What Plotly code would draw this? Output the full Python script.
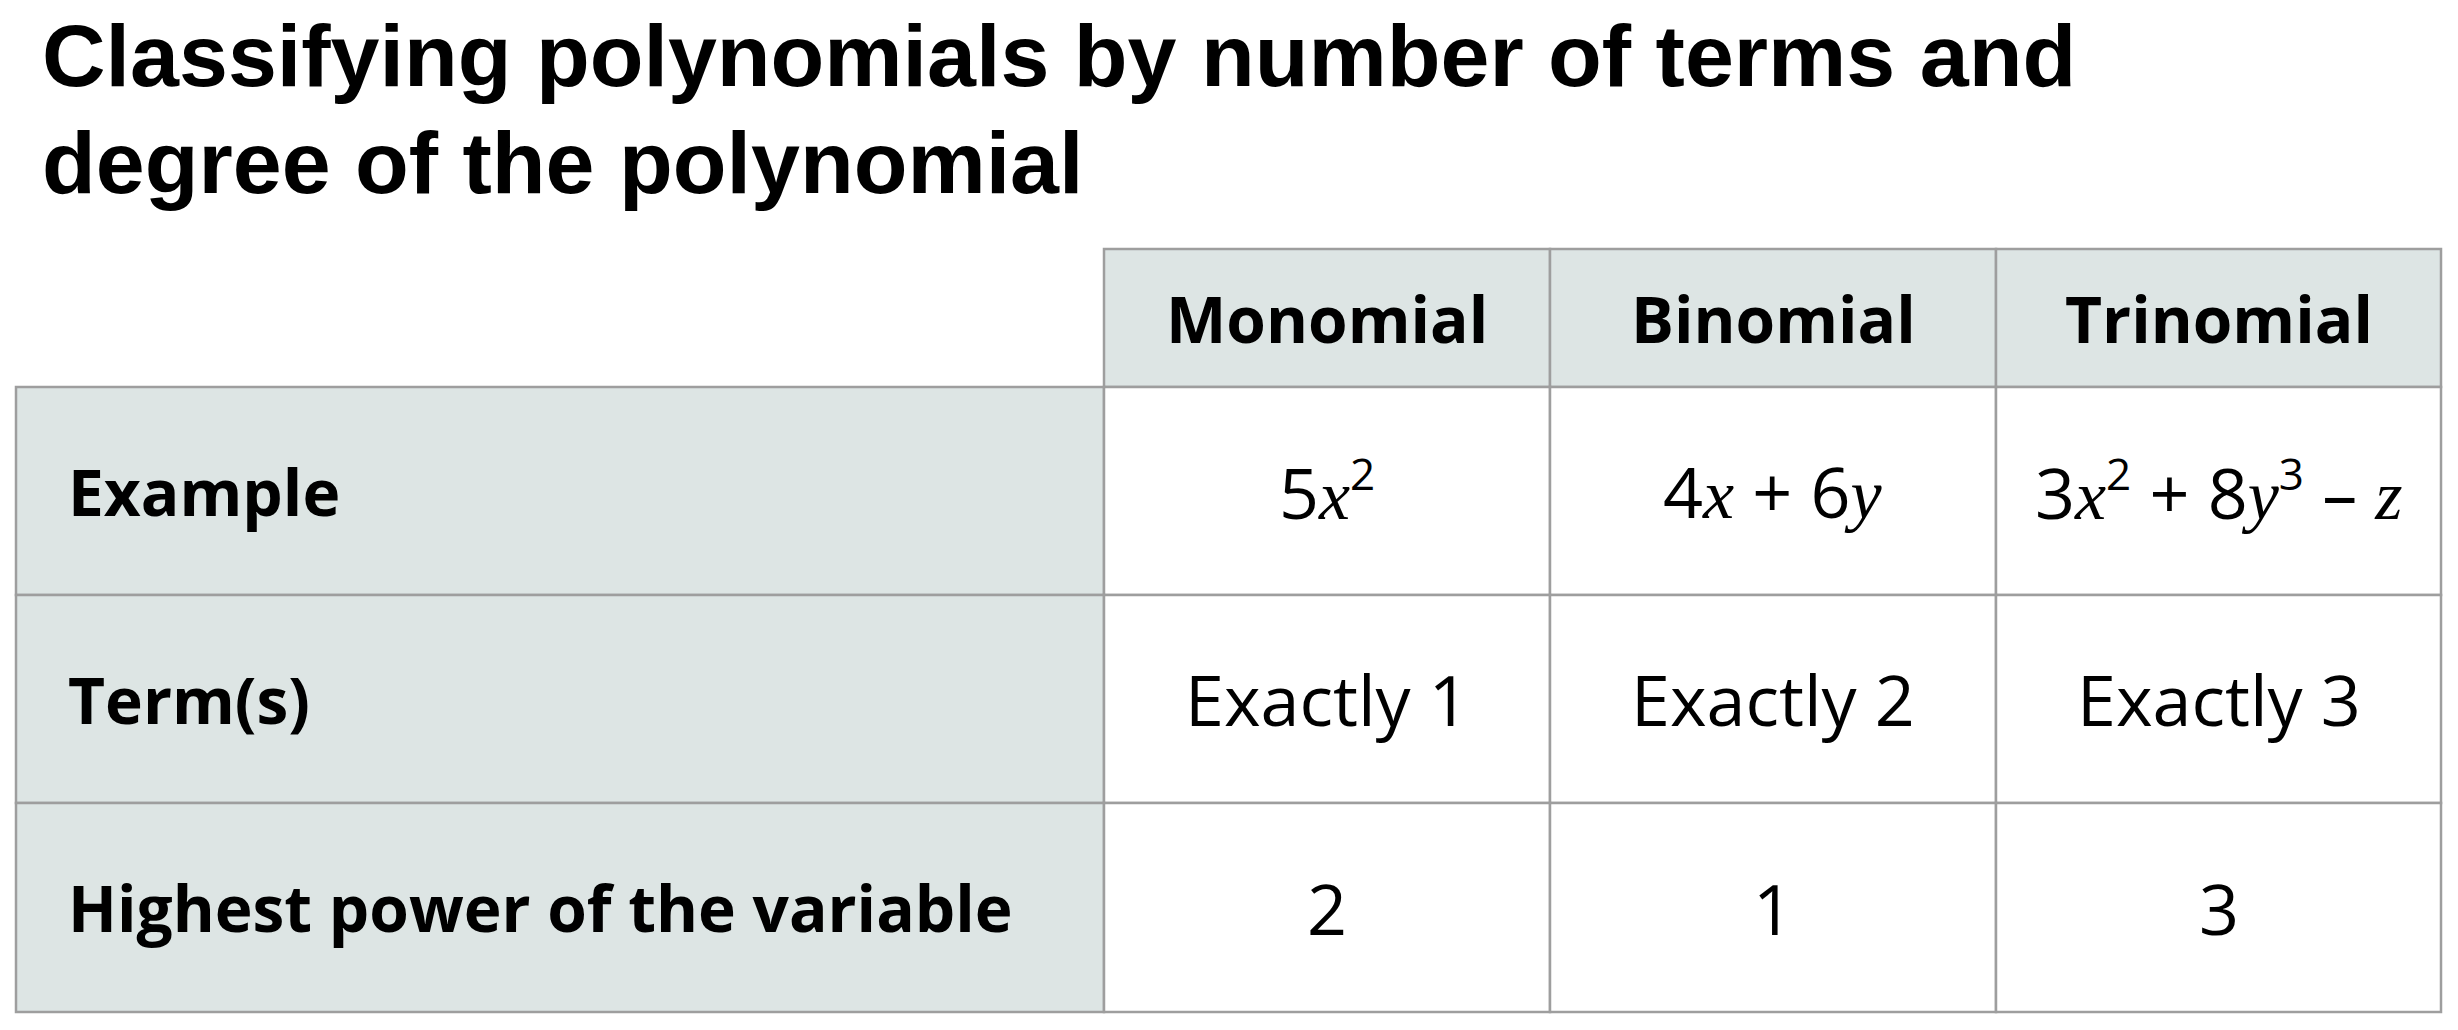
import re
import plotly.graph_objects as go

# table content
title_lines = ["Classifying polynomials by number of terms and", "degree of the polynomial"]
column_headers = ["Monomial", "Binomial", "Trinomial"]
row_labels = ["Example", "Term(s)", "Highest power of the variable"]
examples = ["5x^2", "4x + 6y", "3x^2 + 8y^3 – z"]
term_counts = ["Exactly 1", "Exactly 2", "Exactly 3"]
highest_powers = [2, 1, 3]

# layout (pixels)
W, H = 2458, 1030
table_left, table_top = 16, 249
col_widths = [1088, 446, 446, 445]
row_heights = [138, 208, 208, 209]

shade = "#dde5e4"
border = "#9e9e9e"
sans = "Open Sans"

VAR = '<span style="font-family:Liberation Serif,serif"><i>{}</i></span>'
SUP = '<sup><span style="font-size:44px">{}</span></sup>'


def to_math(expr):
    # variables in serif italic, ^n as a smaller superscript
    def repl(m):
        tok = m.group(0)
        return SUP.format(tok[1]) if tok.startswith("^") else VAR.format(tok)
    return re.sub(r"\^\d|[xyz]", repl, expr)


body = [
    [to_math(e) for e in examples],
    term_counts,
    [str(p) for p in highest_powers],
]

x_edges = [table_left]
for w in col_widths:
    x_edges.append(x_edges[-1] + w)
y_edges = [table_top]
for h in row_heights:
    y_edges.append(y_edges[-1] + h)

fig = go.Figure()
# invisible trace so the axes exist
fig.add_trace(go.Scatter(x=[0, W], y=[0, H], mode="markers", marker=dict(opacity=0),
                         hoverinfo="skip", showlegend=False))

shapes = []
annotations = []
for r in range(4):
    for c in range(4):
        if r == 0 and c == 0:
            continue
        fill = shade if (r == 0 or c == 0) else "white"
        shapes.append(dict(type="rect", xref="x", yref="y",
                           x0=x_edges[c], x1=x_edges[c + 1], y0=y_edges[r], y1=y_edges[r + 1],
                           fillcolor=fill, line=dict(color=border, width=2.5), layer="below"))
        ym = (y_edges[r] + y_edges[r + 1]) / 2
        if r == 0:
            txt, bold, xa, xpos = column_headers[c - 1], True, "center", (x_edges[c] + x_edges[c + 1]) / 2
        elif c == 0:
            txt, bold, xa, xpos = row_labels[r - 1], True, "left", x_edges[0] + 50
        else:
            txt, bold, xa, xpos = body[r - 1][c - 1], False, "center", (x_edges[c] + x_edges[c + 1]) / 2
        annotations.append(dict(
            x=xpos, y=ym, xref="x", yref="y", xanchor=xa, yanchor="middle",
            text=f"<b>{txt}</b>" if bold else txt, showarrow=False,
            font=dict(family=sans, size=64 if bold else 70, color="black"),
        ))

# title, two lines
for i, line in enumerate(title_lines):
    annotations.append(dict(
        x=40, y=55 + i * 107, xref="x", yref="y", xanchor="left", yanchor="middle",
        text=f"<b>{line}</b>", showarrow=False,
        font=dict(family="Liberation Sans, Arial", size=88, color="black"),
    ))

fig.update_layout(
    width=W, height=H,
    margin=dict(l=0, r=0, t=0, b=0),
    paper_bgcolor="white", plot_bgcolor="white",
    xaxis=dict(range=[0, W], visible=False, fixedrange=True),
    yaxis=dict(range=[H, 0], visible=False, fixedrange=True),
    shapes=shapes, annotations=annotations,
    showlegend=False,
)

# page body has a default margin; drop it so the figure sits at the window corner
fig.write_html("out.html", config={"displayModeBar": False},
               post_script="document.body.style.margin = '0';")
